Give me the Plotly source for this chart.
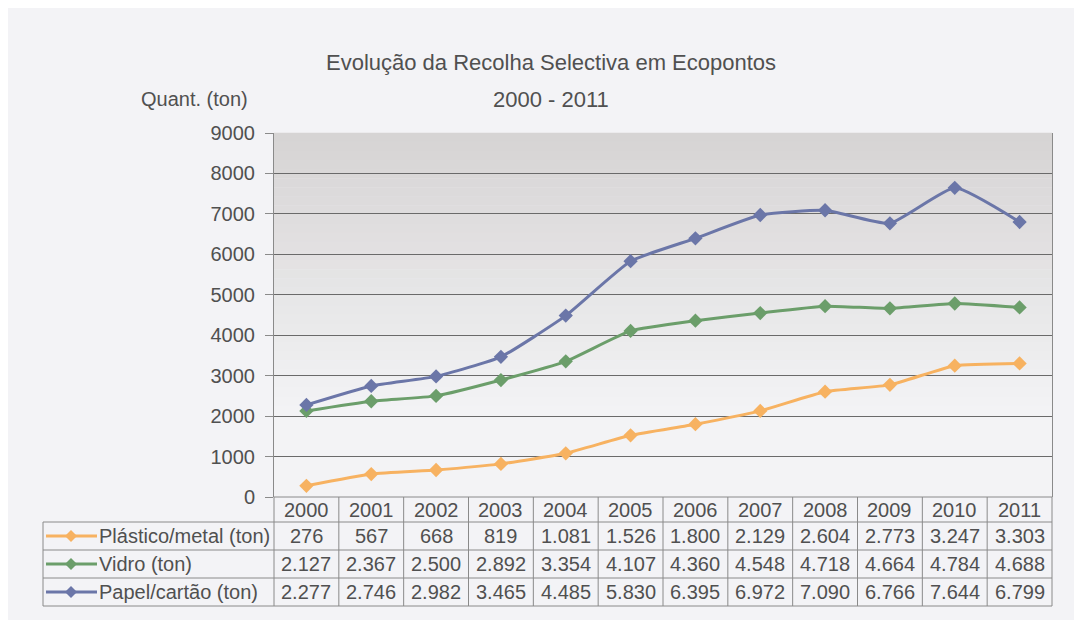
import plotly.graph_objects as go

years = ["2000", "2001", "2002", "2003", "2004", "2005", "2006", "2007", "2008", "2009", "2010", "2011"]
plastico = [276, 567, 668, 819, 1081, 1526, 1800, 2129, 2604, 2773, 3247, 3303]
vidro = [2127, 2367, 2500, 2892, 3354, 4107, 4360, 4548, 4718, 4664, 4784, 4688]
papel = [2277, 2746, 2982, 3465, 4485, 5830, 6395, 6972, 7090, 6766, 7644, 6799]
series_names = ["Plástico/metal (ton)", "Vidro (ton)", "Papel/cartão (ton)"]
series_values = [plastico, vidro, papel]
series_colors = ["#f7b261", "#6b9e6a", "#6b76a8"]
y_ticks = [0, 1000, 2000, 3000, 4000, 5000, 6000, 7000, 8000, 9000]

OFF = 8  # page body margin
W, H = 1077 - OFF, 620 - OFF
# plot area in reference pixel coordinates
RL, RR, RT, RB = 274, 1052, 133, 497
L, R, T, B = RL - OFF, RR - OFF, RT - OFF, RB - OFF
FONT = "Liberation Sans, Arial, sans-serif"
TXT = "#505050"
GRID = "#6a6a6a"
BORDER = "#8a8a8a"


def px(x):
    return (x - RL) / (RR - RL)


def py(y):
    return (RB - y) / (RB - RT)


fig = go.Figure()
for name, vals, col in zip(series_names, series_values, series_colors):
    fig.add_trace(go.Scatter(
        x=list(range(len(years))), y=vals, name=name, mode="lines+markers",
        line=dict(color=col, width=3, shape="spline", smoothing=0.45),
        marker=dict(symbol="diamond", size=11, color=col),
        showlegend=False,
    ))

shapes = []
n = 40
top_c = (214, 212, 212)
bot_c = (243, 243, 245)
for i in range(n):
    f = i / (n - 1)
    f2 = min(1.0, f * 1.3)
    c = tuple(int(round(top_c[k] + (bot_c[k] - top_c[k]) * f2)) for k in range(3))
    shapes.append(dict(type="rect", xref="x domain", yref="y domain", x0=0, x1=1,
                       y0=1 - (i + 1) / n, y1=1 - i / n + 0.001,
                       fillcolor="rgb(%d,%d,%d)" % c, line=dict(width=0), layer="below"))

row_lines = [497, 522, 550, 578, 606]
col_w = (RR - RL) / 12
tl = dict(color=BORDER, width=1)
shapes.append(dict(type="line", xref="paper", yref="paper", x0=px(RL), x1=px(RR), y0=py(row_lines[0]), y1=py(row_lines[0]), line=tl))
for yy in row_lines[1:]:
    shapes.append(dict(type="line", xref="paper", yref="paper", x0=px(43), x1=px(RR), y0=py(yy), y1=py(yy), line=tl))
shapes.append(dict(type="line", xref="paper", yref="paper", x0=px(43), x1=px(43), y0=py(row_lines[1]), y1=py(row_lines[-1]), line=tl))
for i in range(13):
    xx = RL + col_w * i
    shapes.append(dict(type="line", xref="paper", yref="paper", x0=px(xx), x1=px(xx), y0=py(row_lines[0]), y1=py(row_lines[-1]), line=tl))

annotations = []
for j, (name, col) in enumerate(zip(series_names, series_colors)):
    yc = (row_lines[j + 1] + row_lines[j + 2]) / 2
    shapes.append(dict(type="line", xref="paper", yref="paper", x0=px(46), x1=px(97), y0=py(yc), y1=py(yc),
                       line=dict(color=col, width=3)))
    cx, cy, d = 71, yc, 6
    path = "M %f %f L %f %f L %f %f L %f %f Z" % (
        px(cx - d), py(cy), px(cx), py(cy - d), px(cx + d), py(cy), px(cx), py(cy + d))
    shapes.append(dict(type="path", xref="paper", yref="paper", path=path, fillcolor=col, line=dict(width=0)))
    annotations.append(dict(text=name, xref="paper", yref="paper", x=px(97), y=py(yc), xanchor="left",
                            yanchor="middle", showarrow=False, font=dict(family=FONT, size=20, color=TXT)))
    for i, v in enumerate(series_values[j]):
        annotations.append(dict(text=f"{v:,}".replace(",", "."), xref="x", yref="paper", x=i, y=py(yc),
                                xanchor="center", yanchor="middle", showarrow=False,
                                font=dict(family=FONT, size=20, color=TXT)))
for i, yr in enumerate(years):
    annotations.append(dict(text=yr, xref="x", yref="paper", x=i, y=py((row_lines[0] + row_lines[1]) / 2),
                            xanchor="center", yanchor="middle", showarrow=False,
                            font=dict(family=FONT, size=20, color=TXT)))

annotations.append(dict(text="Evolução da Recolha Selectiva em Ecopontos", xref="paper", yref="paper",
                        x=px(551), y=py(62), xanchor="center", yanchor="middle", showarrow=False,
                        font=dict(family=FONT, size=22, color=TXT)))
annotations.append(dict(text="2000 - 2011", xref="paper", yref="paper",
                        x=px(551), y=py(99), xanchor="center", yanchor="middle", showarrow=False,
                        font=dict(family=FONT, size=22, color=TXT)))
annotations.append(dict(text="Quant. (ton)", xref="paper", yref="paper",
                        x=px(139), y=py(99), xanchor="left", yanchor="middle", showarrow=False,
                        font=dict(family=FONT, size=20, color=TXT)))

fig.update_layout(
    width=W, height=H,
    margin=dict(l=L, r=W - R, t=T, b=H - B),
    paper_bgcolor="#f3f3f6", plot_bgcolor="rgba(0,0,0,0)",
    shapes=shapes, annotations=annotations,
    font=dict(family=FONT, color=TXT),
)
fig.update_xaxes(range=[-0.5, 11.5], showticklabels=False, showgrid=False,
                 showline=False, zeroline=False, ticks="")
fig.update_yaxes(range=[0, 9000], tickvals=y_ticks, showgrid=True, gridcolor=GRID, gridwidth=1,
                 showline=True, linecolor=BORDER, linewidth=1, mirror=True, ticks="outside",
                 ticklen=8, tickcolor=BORDER, zeroline=False, ticklabelstandoff=6,
                 tickfont=dict(family=FONT, size=20, color=TXT))

fig.write_html("out.html")
